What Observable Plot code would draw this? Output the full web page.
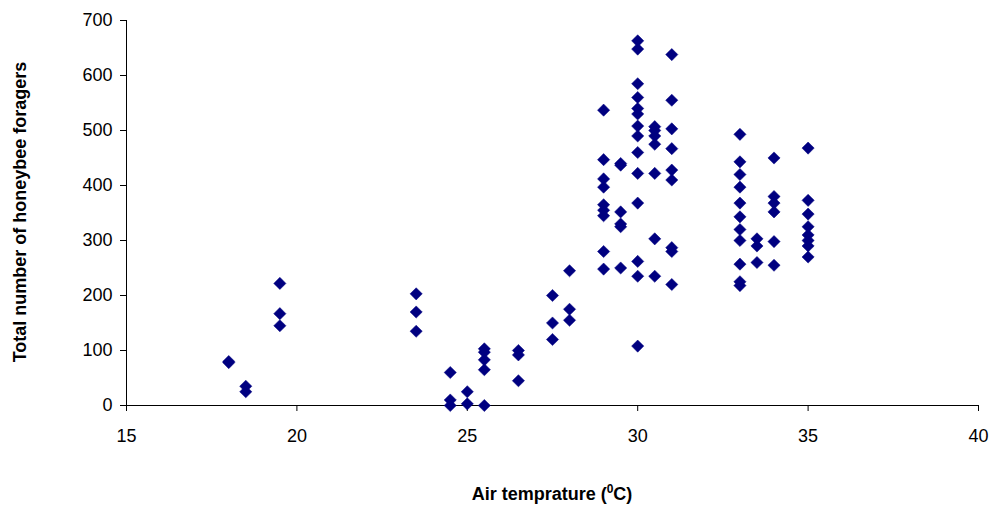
<!DOCTYPE html>
<html><head>
<script src="https://cdn.jsdelivr.net/npm/d3@7"></script>
<script src="https://cdn.jsdelivr.net/npm/@observablehq/plot@0.6"></script>
<style>body{margin:0;background:#fff}</style>
</head><body><div id="chart"></div>
<script>
const temps = [18, 18.5, 19.5, 23.5, 24.5, 25, 25.5, 26.5, 27.5, 28, 29, 29.5, 30, 30.5, 31, 33, 33.5, 34, 35];
const foragers = [
  [80, 78],
  [35, 25],
  [222, 167, 145],
  [203, 170, 135],
  [60, 10, 0],
  [25, 3],
  [103, 97, 83, 65, 0],
  [100, 92, 45],
  [200, 150, 120],
  [245, 175, 155],
  [537, 447, 412, 397, 365, 355, 345, 280, 248],
  [440, 437, 352, 330, 325, 250],
  [663, 648, 585, 560, 540, 530, 508, 490, 460, 422, 368, 262, 235, 108],
  [507, 500, 490, 475, 422, 303, 235],
  [638, 555, 503, 467, 428, 410, 287, 280, 220],
  [493, 443, 420, 397, 368, 343, 320, 300, 257, 225, 218],
  [303, 290, 260],
  [450, 380, 368, 352, 298, 255],
  [468, 373, 348, 325, 310, 300, 290, 270]
];
const xTicks = [15, 20, 25, 30, 35, 40];
const yTicks = [0, 100, 200, 300, 400, 500, 600, 700];
const data = temps.flatMap((t, i) => foragers[i].map(v => ({t, v})));

const chart = Plot.plot({
  width: 995, height: 512,
  marginLeft: 126, marginRight: 17, marginTop: 20, marginBottom: 107,
  style: {fontFamily: "Liberation Sans, Arial, sans-serif", fontSize: "18px", color: "#000"},
  x: {domain: [15, 40]},
  y: {domain: [0, 700]},
  marks: [
    Plot.axisX({ticks: xTicks, tickSize: 6, tickPadding: 18, label: null, fontSize: 18}),
    Plot.axisY({ticks: yTicks, tickSize: 6, tickPadding: 8, label: null, fontSize: 18}),
    Plot.ruleY([0]),
    Plot.ruleX([15]),
    Plot.dot(data, {x: "t", y: "v", symbol: "diamond2", r: 5.5, fill: "#000080", stroke: "#000080", strokeWidth: 0.5})
  ]
});
const svg = d3.select(chart);
svg.append("text").attr("x", 552).attr("y", 500).attr("text-anchor", "middle")
  .attr("font-weight", "bold").attr("font-size", 18)
  .html('Air temprature (<tspan dy="-7" font-size="12">0</tspan><tspan dy="7">C)</tspan>');
svg.append("text").attr("transform", "translate(26,212) rotate(-90)").attr("text-anchor", "middle")
  .attr("font-weight", "bold").attr("font-size", 18).text("Total number of honeybee foragers");
d3.select("#chart").append(() => chart);
</script>
</body></html>
